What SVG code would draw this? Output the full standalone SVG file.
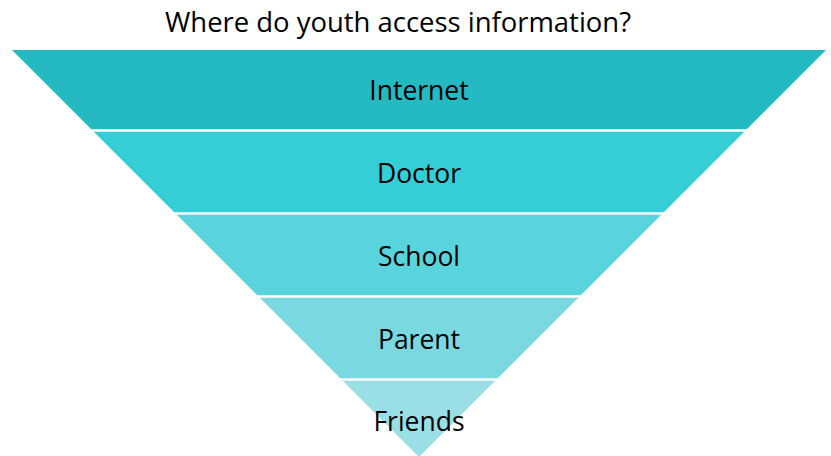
<svg xmlns="http://www.w3.org/2000/svg" width="831" height="456" viewBox="0 0 831 456">
<style>
text{font-family:"Open Sans","Liberation Sans",sans-serif;fill:#000;text-anchor:middle;font-size:26.5px}
.gap{stroke:#fff;stroke-width:2.5}
</style>
<rect width="831" height="456" fill="#fff"/>
<text x="398" y="32" style="font-size:27px" textLength="466" lengthAdjust="spacingAndGlyphs">Where do youth access information?</text>
<g id="band-internet"><polygon points="12,50 826,50 746,130 92,130" fill="#25BAC2"/><text x="419" y="100">Internet</text></g>
<g id="band-doctor"><polygon points="92,130 746,130 663,213 175,213" fill="#35CED7"/><text x="419" y="183">Doctor</text></g>
<g id="band-school"><polygon points="175,213 663,213 580,296 258,296" fill="#5AD4DC"/><text x="419" y="266">School</text></g>
<g id="band-parent"><polygon points="258,296 580,296 497,379 341,379" fill="#7AD9E0"/><text x="419" y="349">Parent</text></g>
<g id="band-friends"><polygon points="341,379 497,379 419,457" fill="#9ADFE5"/><text x="419" y="431">Friends</text></g>
<g id="connectors"><line class="gap" x1="0" y1="130.5" x2="831" y2="130.5"/><line class="gap" x1="0" y1="213.5" x2="831" y2="213.5"/><line class="gap" x1="0" y1="296.5" x2="831" y2="296.5"/><line class="gap" x1="0" y1="379.5" x2="831" y2="379.5"/></g>
</svg>
